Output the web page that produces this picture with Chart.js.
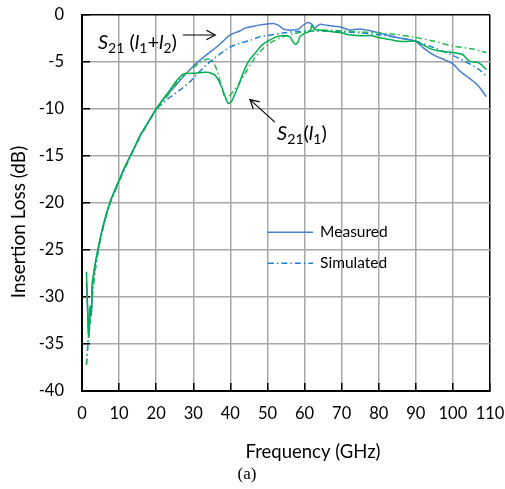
<!DOCTYPE html>
<html><head><meta charset="utf-8">
<script src="https://cdn.jsdelivr.net/npm/chart.js@4.4.1/dist/chart.umd.min.js"></script>
<style>html,body{margin:0;padding:0;background:#fff;}#wrap{position:relative;width:505px;height:489px;}</style>
</head><body><div id="wrap"><canvas id="c" width="505" height="489"></canvas></div>
<script>
// ---- data (GHz / dB) ----
const xTickValues = [0,10,20,30,40,50,60,70,80,90,100,110];
const yTickValues = [-40,-35,-30,-25,-20,-15,-10,-5,0];

const measuredL12Freq = [1.2,1.6,1.9,2.2,2.5,2.8,3.2,3.7,4.4,5,6,7.5,9,10,11.5,13,14.5,16,18,20,22,24.6,27,29,31.8,34,36.3,38,40,42.6,44,46.2,48,50,51.6,53,54.3,55.5,56.6,58.3,59.6,61,62,62.7,64,66,68,70,72,75,78,80,83,85,88,90,92,95,98,100,102,105,107,109];
const measuredL12Loss = [-28.5,-32,-34.2,-31.5,-31.8,-29,-27.6,-26.2,-24.8,-23.6,-22,-20,-18.5,-17.6,-16.2,-15,-13.8,-12.6,-11.3,-10,-8.9,-7.8,-6.7,-5.85,-4.8,-4.1,-3.4,-2.8,-2.1,-1.7,-1.4,-1.2,-1.05,-0.95,-0.9,-1.1,-1.5,-1.6,-1.6,-1.5,-1.1,-0.8,-1.0,-1.4,-1.0,-1.1,-1.2,-1.3,-1.6,-1.5,-1.7,-1.9,-2.2,-2.4,-2.6,-2.8,-3.5,-4.3,-4.8,-5.2,-6.0,-6.9,-7.6,-8.7];

const simulatedL12Freq = [1.2,1.5,1.7,1.9,2.2,2.5,3.0,3.5,4.4,5,6,7.5,10,13,16,20,22,24.6,27,29.1,31,33.6,36,38.1,40,42.6,45.3,48,50,54.6,58,61,65,70,75,80,85,90,95,100,103,105,107,109];
const simulatedL12Loss = [-37.2,-35.5,-34.5,-33.8,-32.5,-31.2,-29,-27.3,-25,-23.8,-22.1,-20.1,-17.7,-15.1,-12.7,-10.1,-9.3,-8.5,-7.8,-7.1,-6.3,-5.3,-4.5,-3.9,-3.4,-3.0,-2.7,-2.3,-2.2,-1.9,-1.75,-1.7,-1.7,-1.8,-1.9,-2.1,-2.4,-2.8,-3.5,-4.3,-4.9,-5.3,-5.8,-6.5];

const measuredL1Freq = [1.2,1.5,1.7,1.9,2.2,2.5,2.75,3.1,3.5,4.4,5,6,7.5,9,10,11.5,13,14.5,16,18,20,22,23.7,25.5,27.3,30,33.6,35.5,36.3,37.6,38.6,39.4,40.3,41,42.1,43.3,44.4,45.3,47,48.5,50,52.5,54.6,56,56.8,57.5,58.2,58.8,60.2,61.5,62,62.7,64,66,68,70,72,75,78,80,83,85.5,88,90,92.5,94,96,98,100,102.6,104.4,107,109];
const measuredL1Loss = [-27.3,-31,-34,-33.2,-31,-32,-28.5,-27.6,-26.6,-24.7,-23.6,-22,-20,-18.5,-17.6,-16.2,-15,-13.8,-12.6,-11.3,-10,-8.9,-8.0,-7.0,-6.3,-6.2,-6.1,-6.3,-6.6,-7.6,-8.7,-9.4,-9.2,-8.6,-7.6,-6.3,-5.3,-4.7,-3.9,-3.2,-2.8,-2.3,-2.2,-2.3,-2.8,-3.1,-2.9,-2.3,-1.9,-1.7,-1.1,-1.5,-1.6,-1.7,-1.8,-1.9,-2.1,-2.2,-2.2,-2.4,-2.6,-2.8,-2.8,-2.8,-3.3,-3.6,-3.8,-3.9,-4.0,-4.2,-4.9,-5.1,-5.8];

const simulatedL1Freq = [1.2,1.5,1.7,1.9,2.2,2.5,3.0,3.5,4.4,5,6,7.5,10,13,16,20,22,25.5,28,30,32,33.6,35,36.3,37.6,38.8,40,42,44,46,48,50.6,54.3,57,61,65,70,75,80,85,90,95,100,105,109];
const simulatedL1Loss = [-37.2,-35.5,-34.5,-33.8,-32.5,-31.2,-29,-27.3,-25,-23.8,-22.1,-20.1,-17.7,-15.1,-12.7,-10.1,-9.2,-7.2,-6.2,-5.6,-5.0,-4.7,-4.8,-5.8,-7.6,-8.9,-8.5,-7.5,-6.2,-4.9,-3.9,-3.0,-2.3,-2.0,-1.7,-1.6,-1.7,-1.8,-1.9,-2.1,-2.4,-2.8,-3.3,-3.6,-4.0];

const legendLabels = ['Measured','Simulated'];
// annotation anchors in data units: [text, arrow tail, arrow tip]
const annotL12 = {text:[25.6,-2.85], tail:[27.2,-2.13], tip:[35.9,-2.13]};
const annotL1 = {text:[52.6,-12.5], tail:[52.0,-11.4], tip:[45.3,-9.0]};

const pts = (xs, ys) => xs.map((v,i)=>({x:v,y:ys[i]}));
const FONT = 'Lato, "Open Sans", sans-serif';

const BLUE = '#4A7FD0', BLUE_SIM = '#1F80D8', GREEN = '#00B050', GREEN_SIM = '#22BB55';
const DASHDOT = [6,3,1.5,3];

function drawRich(ctx, parts, x, y, size){
  let w = 0; const ws = [];
  parts.forEach(p=>{
    ctx.font = (p[1]?'italic ':'') + (p[2]? Math.round(size*0.7):size) + 'px ' + FONT;
    const m = ctx.measureText(p[0]).width; ws.push(m); w += m;
  });
  let cx = x;
  ctx.textBaseline = 'alphabetic'; ctx.textAlign='left';
  parts.forEach((p,i)=>{
    ctx.font = (p[1]?'italic ':'') + (p[2]? Math.round(size*0.7):size) + 'px ' + FONT;
    ctx.fillText(p[0], cx, y + (p[2]? size*0.22:0));
    cx += ws[i];
  });
  return w;
}
function arrow(ctx, x1,y1,x2,y2){
  ctx.beginPath(); ctx.moveTo(x1,y1); ctx.lineTo(x2,y2); ctx.stroke();
  const a = Math.atan2(y2-y1,x2-x1), L=10, s=0.5;
  ctx.beginPath();
  ctx.moveTo(x2 - L*Math.cos(a-s), y2 - L*Math.sin(a-s));
  ctx.lineTo(x2,y2);
  ctx.lineTo(x2 - L*Math.cos(a+s), y2 - L*Math.sin(a+s));
  ctx.stroke();
}

const decor = {
  id:'decor',
  afterDraw(chart){
    const {ctx, scales:{x,y}} = chart;
    ctx.save();
    ctx.fillStyle='#000';
    ctx.textAlign='center'; ctx.textBaseline='middle';
    ctx.font = '18.5px ' + FONT;
    ctx.fillText('Frequency (GHz)', 313, 452);
    ctx.font = '19px ' + FONT;
    ctx.save(); ctx.translate(19,222); ctx.rotate(-Math.PI/2);
    ctx.fillText('Insertion Loss (dB)', 0, 0); ctx.restore();
    ctx.font = '17px "Liberation Serif", serif';
    ctx.fillText('(a)', 247, 475);
    const lx1 = x.getPixelForValue(50.1), lx2 = x.getPixelForValue(62.3), tx = x.getPixelForValue(64.2);
    const ly = [y.getPixelForValue(-23.1), y.getPixelForValue(-26.4)];
    ctx.lineWidth = 1.5;
    ctx.strokeStyle = BLUE; ctx.setLineDash([]);
    ctx.beginPath(); ctx.moveTo(lx1,ly[0]); ctx.lineTo(lx2,ly[0]); ctx.stroke();
    ctx.strokeStyle = BLUE_SIM; ctx.setLineDash(DASHDOT);
    ctx.beginPath(); ctx.moveTo(lx1,ly[1]); ctx.lineTo(lx2,ly[1]); ctx.stroke();
    ctx.setLineDash([]);
    ctx.font = '15.5px ' + FONT; ctx.textAlign='left'; ctx.textBaseline='middle';
    ctx.fillText(legendLabels[0], tx, ly[0]);
    ctx.fillText(legendLabels[1], tx, ly[1]);
    ctx.strokeStyle = '#000'; ctx.lineWidth = 1.2;
    const px = p => [x.getPixelForValue(p[0]), y.getPixelForValue(p[1])];
    let t = px(annotL12.tail), h = px(annotL12.tip);
    arrow(ctx, t[0],t[1],h[0],h[1]);
    const parts1 = [['S',true,false],['21',false,true],[' (',false,false],['l',true,false],['1',false,true],['+',false,false],['l',true,false],['2',false,true],[')',false,false]];
    const tp = px(annotL12.text);
    ctx.globalAlpha = 0; const w1 = drawRich(ctx, parts1, 0, 0, 20); ctx.globalAlpha = 1;
    drawRich(ctx, parts1, tp[0]-w1, tp[1]+7, 20);
    t = px(annotL1.tail); h = px(annotL1.tip);
    arrow(ctx, t[0],t[1],h[0],h[1]);
    const parts2 = [['S',true,false],['21',false,true],['(',false,false],['l',true,false],['1',false,true],[')',false,false]];
    const tp2 = px(annotL1.text);
    drawRich(ctx, parts2, tp2[0], tp2[1]+7, 20);
    ctx.restore();
  }
};

const gridColor = (edgeVal) => (c) => (c.tick && c.tick.value === edgeVal) ? '#000' : '#A8A8A8';

new Chart(document.getElementById('c'), {
  type:'line',
  data:{ datasets:[
    {label:'S21(l1) measured', data:pts(measuredL1Freq,measuredL1Loss), borderColor:GREEN, borderWidth:1.5, pointRadius:0, tension:0.3},
    {label:'S21(l1) simulated', data:pts(simulatedL1Freq,simulatedL1Loss), borderColor:GREEN_SIM, borderWidth:1.5, borderDash:DASHDOT, pointRadius:0, tension:0.3},
    {label:'S21(l1+l2) measured', data:pts(measuredL12Freq,measuredL12Loss), borderColor:BLUE, borderWidth:1.5, pointRadius:0, tension:0.3},
    {label:'S21(l1+l2) simulated', data:pts(simulatedL12Freq,simulatedL12Loss), borderColor:BLUE_SIM, borderWidth:1.5, borderDash:DASHDOT, pointRadius:0, tension:0.3}
  ]},
  options:{
    responsive:false, animation:false, devicePixelRatio:1,
    layout:{padding:{top:15,right:15,left:0,bottom:0}},
    plugins:{legend:{display:false}, tooltip:{enabled:false}},
    scales:{
      x:{type:'linear', min:0, max:110,
        afterBuildTicks:s=>{s.ticks = xTickValues.map(v=>({value:v}));},
        ticks:{color:'#000', font:{family:FONT,size:16.5}, padding:21, maxRotation:0},
        grid:{color:gridColor(110), lineWidth:1.5, tickLength:-8, tickColor:'#000', tickWidth:1.5},
        border:{color:'#000', width:2},
        afterFit:s=>{s.height = 98; s.paddingLeft = 0; s.paddingRight = 0; s.paddingTop = 0; s.paddingBottom = 0;}
      },
      y:{type:'linear', min:-40, max:0,
        afterBuildTicks:s=>{s.ticks = yTickValues.map(v=>({value:v}));},
        ticks:{color:'#000', font:{family:FONT,size:16.5}, padding:26},
        grid:{color:gridColor(0), lineWidth:1.5, tickLength:-8, tickColor:'#000', tickWidth:1.5},
        border:{color:'#000', width:2},
        afterFit:s=>{s.width = 82; s.paddingLeft = 0; s.paddingRight = 0; s.paddingTop = 0; s.paddingBottom = 0;}
      }
    }
  },
  plugins:[decor]
});
</script></body></html>
